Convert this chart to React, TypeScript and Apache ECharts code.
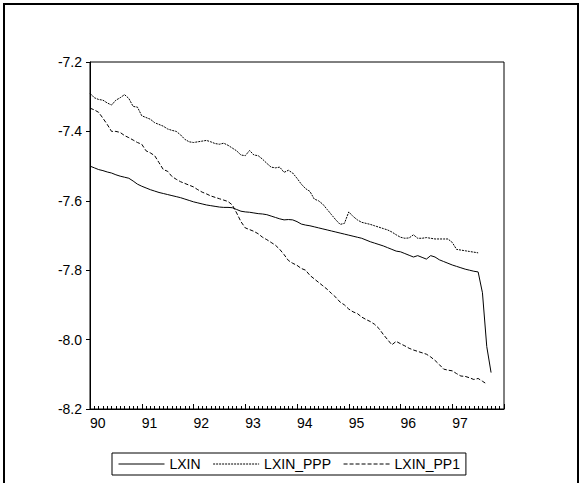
import { useEffect, useRef } from "react";
import * as echarts from "echarts";

// monthly observations, 1990M01 onward (x = month index)
const lxin = [
  -7.500, -7.505, -7.510, -7.513, -7.517, -7.520, -7.525, -7.529, -7.532, -7.535, -7.543, -7.552,
  -7.558, -7.563, -7.568, -7.572, -7.576, -7.579, -7.582, -7.585, -7.588, -7.591, -7.595, -7.599,
  -7.603, -7.606, -7.609, -7.612, -7.614, -7.616, -7.618, -7.619, -7.619, -7.620, -7.625, -7.630,
  -7.632, -7.633, -7.635, -7.637, -7.638, -7.640, -7.644, -7.648, -7.652, -7.655, -7.654, -7.655,
  -7.660, -7.667, -7.670, -7.672, -7.675, -7.678, -7.681, -7.684, -7.687, -7.690, -7.693, -7.696,
  -7.699, -7.702, -7.705, -7.708, -7.713, -7.718, -7.722, -7.726, -7.730, -7.735, -7.740, -7.745,
  -7.747, -7.752, -7.757, -7.762, -7.758, -7.763, -7.768, -7.758, -7.762, -7.770, -7.775, -7.780,
  -7.785, -7.789, -7.793, -7.797, -7.800, -7.803, -7.805, -7.865, -8.020, -8.095,
];
const lxinPpp = [
  -7.290, -7.303, -7.308, -7.310, -7.318, -7.324, -7.310, -7.303, -7.294, -7.305, -7.328, -7.330,
  -7.355, -7.360, -7.365, -7.375, -7.380, -7.385, -7.393, -7.397, -7.400, -7.410, -7.423, -7.430,
  -7.432, -7.430, -7.428, -7.426, -7.430, -7.435, -7.437, -7.434, -7.440, -7.448, -7.456, -7.468,
  -7.470, -7.455, -7.468, -7.470, -7.480, -7.492, -7.503, -7.505, -7.503, -7.518, -7.512, -7.520,
  -7.535, -7.552, -7.565, -7.573, -7.595, -7.600, -7.610, -7.625, -7.640, -7.655, -7.668, -7.665,
  -7.632, -7.645, -7.655, -7.662, -7.665, -7.668, -7.672, -7.676, -7.680, -7.684, -7.690, -7.698,
  -7.705, -7.708, -7.707, -7.698, -7.708, -7.708, -7.706, -7.708, -7.710, -7.710, -7.710, -7.710,
  -7.720, -7.740, -7.742, -7.744, -7.746, -7.748, -7.750,
];
const lxinPp1 = [
  -7.333, -7.338, -7.345, -7.362, -7.380, -7.400, -7.400, -7.403, -7.412, -7.418, -7.425, -7.432,
  -7.437, -7.456, -7.462, -7.470, -7.490, -7.510, -7.515, -7.530, -7.538, -7.545, -7.550, -7.555,
  -7.560, -7.568, -7.575, -7.580, -7.586, -7.590, -7.594, -7.598, -7.602, -7.612, -7.635, -7.660,
  -7.678, -7.683, -7.688, -7.695, -7.705, -7.712, -7.720, -7.728, -7.740, -7.755, -7.772, -7.780,
  -7.786, -7.795, -7.800, -7.815, -7.825, -7.835, -7.845, -7.855, -7.867, -7.878, -7.892, -7.900,
  -7.912, -7.920, -7.925, -7.935, -7.942, -7.948, -7.956, -7.968, -7.985, -8.000, -8.015, -8.005,
  -8.012, -8.018, -8.025, -8.030, -8.034, -8.038, -8.042, -8.050, -8.060, -8.072, -8.085, -8.088,
  -8.090, -8.098, -8.105, -8.106, -8.110, -8.115, -8.112, -8.120, -8.128,
];
const seriesNames = ["LXIN", "LXIN_PPP", "LXIN_PP1"];
const startYear = 90;

const toPairs = (arr: number[]) => arr.map((v, i) => [i, v]);

export default function App() {
  const ref = useRef<HTMLDivElement>(null);

  useEffect(() => {
    if (!ref.current) return;
    const chart = echarts.init(ref.current, null, { renderer: "svg" });
    const font = "Liberation Sans, Arial, sans-serif";
    const styles: any[] = [
      { type: "solid", width: 1 },
      { type: [2, 1], width: 1 },
      { type: [4, 2], width: 1 },
    ];
    chart.setOption({
      animation: false,
      backgroundColor: "#fff",
      textStyle: { fontFamily: font, color: "#000" },
      grid: { left: 90, right: 78, top: 62, bottom: 74 },
      xAxis: {
        type: "value",
        min: 0,
        max: 96,
        interval: 12,
        axisLine: { lineStyle: { color: "#000" } },
        axisTick: { inside: true, length: 5, lineStyle: { color: "#000" } },
        minorTick: { show: true, splitNumber: 12, length: 3, lineStyle: { color: "#000" } },
        splitLine: { show: false },
        axisLabel: {
          color: "#000",
          fontSize: 14,
          fontFamily: font,
          margin: 7,
          formatter: (v: number) => (v >= 96 ? "" : String(startYear + v / 12)),
          align: "left",
        },
      },
      yAxis: {
        type: "value",
        min: -8.2,
        max: -7.2,
        interval: 0.2,
        axisLine: { show: true, lineStyle: { color: "#000" } },
        axisTick: { show: true, length: 4, lineStyle: { color: "#000" } },
        splitLine: { show: false },
        axisLabel: { color: "#000", fontSize: 14, fontFamily: font, formatter: (v: number) => v.toFixed(1) },
      },
      legend: {
        left: 112,
        top: 453,
        itemWidth: 46,
        itemHeight: 10,
        itemGap: 12,
        padding: [4, 6],
        borderColor: "#000",
        borderWidth: 1,
        borderRadius: 0,
        itemStyle: { opacity: 0 },
        lineStyle: { width: 1 },
        textStyle: { fontSize: 14, fontFamily: font, color: "#000" },
      },
      graphic: [
        {
          type: "polyline",
          shape: { points: [[4, 483], [4, 4], [578, 4], [578, 483]] },
          style: { stroke: "#000", lineWidth: 2, fill: "none" },
        },
        {
          type: "rect",
          shape: { x: 90, y: 62, width: 414, height: 347 },
          style: { stroke: "#000", lineWidth: 1, fill: "none" },
          silent: true,
        },
      ],
      series: [lxin, lxinPpp, lxinPp1].map((d, i) => ({
        name: seriesNames[i],
        type: "line",
        data: toPairs(d),
        showSymbol: false,
        symbol: "none",
        color: "#000",
        lineStyle: { color: "#000", ...styles[i] },
      })),
    });
    return () => chart.dispose();
  }, []);

  return (
    <div
      ref={ref}
      style={{ position: "fixed", left: 0, top: 0, width: 582, height: 483, background: "#fff" }}
    />
  );
}
